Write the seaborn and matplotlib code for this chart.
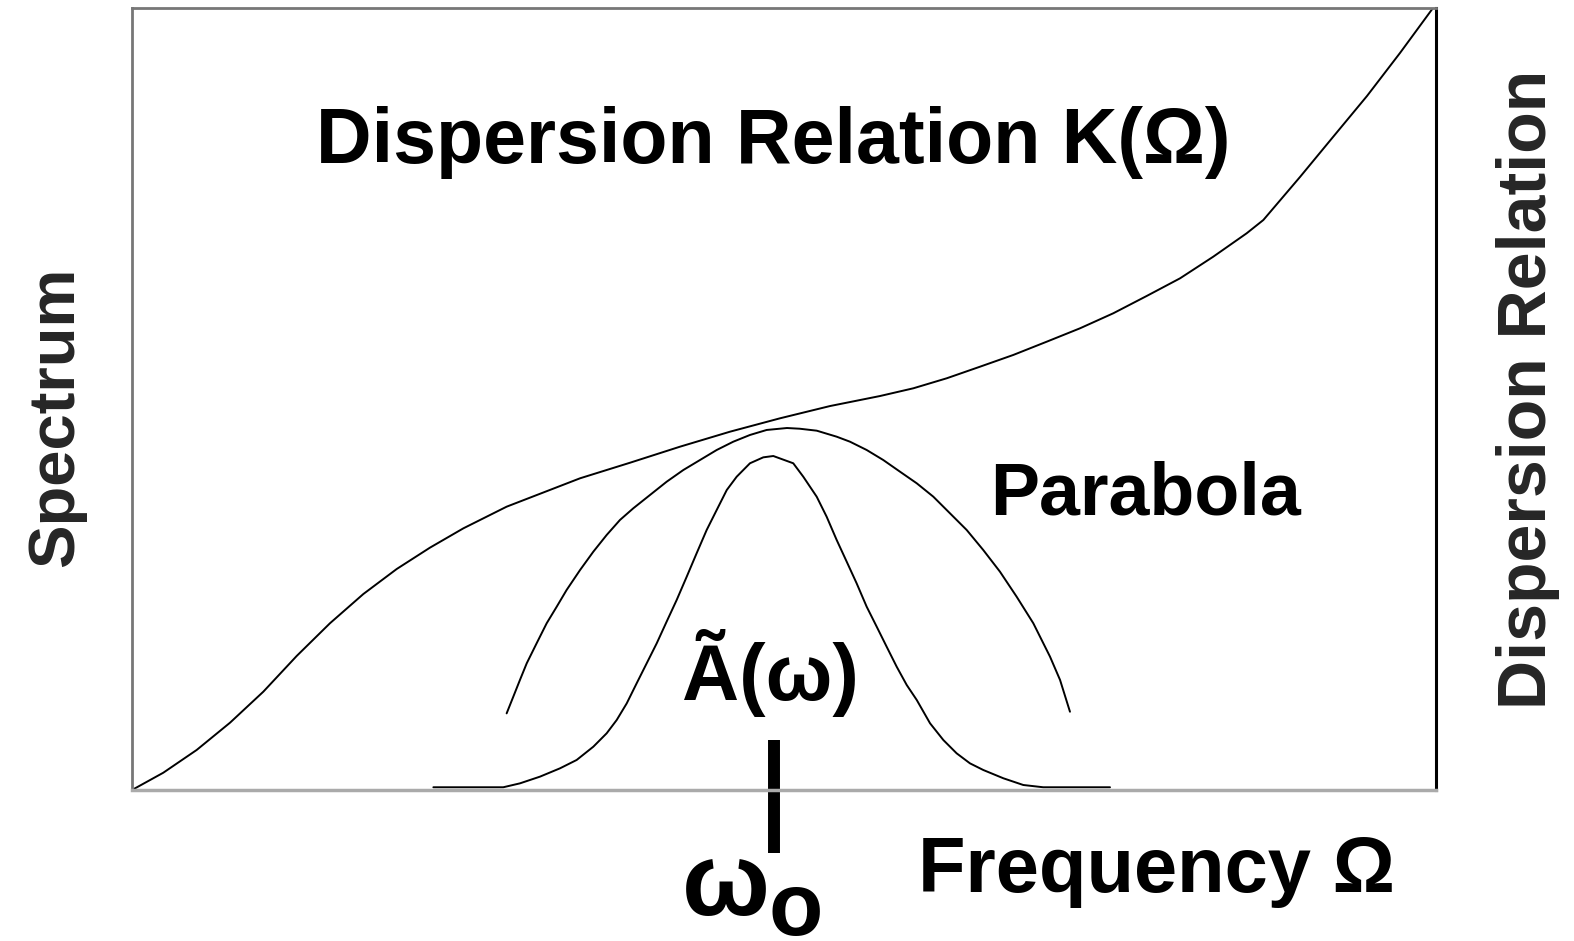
import matplotlib
matplotlib.use("Agg")
import matplotlib.pyplot as plt
from matplotlib import font_manager
import seaborn as sns
import pandas as pd

# curves (frequency 0-100, amplitude 0-100)
disp_x = [0.0, 2.4, 4.96, 7.52, 10.07, 12.63, 15.18, 17.74, 20.3, 22.85,
          25.41, 28.73, 34.36, 38.19, 42.02, 45.86, 49.69, 53.53, 57.36,
          59.92, 62.48, 65.03, 67.58, 70.15, 72.7, 75.25, 77.81, 80.37,
          82.92, 85.48, 86.76, 89.57, 92.1, 94.71, 97.24, 99.77]
disp_y = [0.0, 2.21, 5.12, 8.61, 12.57, 17.14, 21.32, 25.06, 28.26, 30.99,
          33.46, 36.23, 39.86, 41.85, 43.9, 45.82, 47.53, 49.1, 50.38,
          51.37, 52.65, 54.13, 55.63, 57.33, 59.04, 60.96, 63.17, 65.43,
          68.2, 71.19, 72.89, 78.39, 83.5, 88.75, 94.25, 100.0]

para_x = [28.73, 29.24, 29.75, 30.27, 31.03, 31.8, 32.57, 33.33, 34.36,
          35.38, 36.4, 37.42, 38.44, 39.72, 41.0, 42.28, 43.56, 44.84, 46.11,
          47.39, 48.67, 50.23, 51.2, 52.51, 54.04, 55.06, 56.34, 57.61, 58.9,
          60.18, 61.45, 62.73, 64.01, 65.28, 66.56, 67.84, 69.12, 70.4,
          71.17, 71.93]
para_y = [9.8, 11.93, 14.07, 16.2, 18.76, 21.32, 23.44, 25.58, 28.13,
          30.48, 32.61, 34.53, 36.02, 37.72, 39.42, 40.92, 42.2, 43.48, 44.54,
          45.4, 46.04, 46.29, 46.2, 45.95, 45.18, 44.54, 43.48, 42.2, 40.7,
          39.22, 37.51, 35.38, 33.25, 30.69, 27.92, 24.72, 21.32, 17.05,
          14.07, 10.01]

spec_x = [23.11, 28.47, 29.75, 31.29, 32.82, 34.1, 35.38, 36.4, 37.17,
          37.94, 38.7, 39.47, 40.24, 41.0, 41.77, 42.54, 43.3, 44.07, 44.84,
          45.61, 46.37, 47.39, 48.41, 49.18, 50.71, 51.48, 52.51, 53.27,
          54.04, 54.81, 55.57, 56.34, 57.11, 57.87, 58.64, 59.41, 60.18,
          61.2, 62.22, 63.24, 64.26, 65.28, 66.82, 68.35, 69.88, 75.0]
spec_y = [0.35, 0.35, 0.85, 1.71, 2.77, 3.84, 5.54, 7.25, 8.95, 11.08,
          13.64, 16.2, 18.76, 21.53, 24.3, 27.28, 30.27, 33.25, 35.81,
          38.36, 40.06, 41.78, 42.54, 42.71, 41.78, 40.06, 37.5, 34.95,
          31.97, 29.19, 26.43, 23.44, 20.88, 18.33, 15.77, 13.43, 11.51,
          8.53, 6.39, 4.69, 3.41, 2.56, 1.5, 0.64, 0.35, 0.35]

omega0 = 49.2
tick_y = [6.4, -8.1]

title_text = "Dispersion Relation K(Ω)"
parabola_text = "Parabola"
spectrum_text = "Ã(ω)"
xlabel_text = "Frequency Ω"
left_label = "Spectrum"
right_label = "Dispersion Relation"

sns.set_style("white")
plt.rcParams["font.family"] = ["Liberation Sans", "DejaVu Sans"]

# narrow face for the vertical labels, if it is there
try:
    font_manager.findfont("Liberation Sans Narrow", fallback_to_default=False)
    narrow = ["Liberation Sans Narrow", "DejaVu Sans"]
    narrow_size = (57, 59)
except ValueError:
    narrow = ["Liberation Sans", "DejaVu Sans"]
    narrow_size = (47, 49)

fig = plt.figure(figsize=(15.74, 9.41), dpi=100)
ax = fig.add_axes([132 / 1574, 151 / 941, 1304 / 1574, 782 / 941])

curves = [
    pd.DataFrame({"x": disp_x, "y": disp_y}),
    pd.DataFrame({"x": para_x, "y": para_y}),
    pd.DataFrame({"x": spec_x, "y": spec_y}),
]
for df in curves:
    sns.lineplot(data=df, x="x", y="y", ax=ax, color="black", lw=1.4,
                 sort=False, estimator=None)

ax.plot([omega0, omega0], tick_y, color="black", lw=8.6, clip_on=False,
        solid_capstyle="butt")

ax.set_xlim(0, 100)
ax.set_ylim(0, 100)
ax.set_xticks([])
ax.set_yticks([])
ax.set_xlabel("")
ax.set_ylabel("")
for side in ["left", "top"]:
    ax.spines[side].set_color("#777777")
    ax.spines[side].set_linewidth(2)
ax.spines["bottom"].set_color("#aaaaaa")
ax.spines["bottom"].set_linewidth(2.5)
ax.spines["right"].set_color("black")
ax.spines["right"].set_linewidth(2.2)

bold = dict(fontweight="bold", color="black", clip_on=False)
ax.text(49.2, 80.2, title_text, fontsize=55.5, ha="center", va="baseline", **bold)
ax.text(65.8, 35.2, parabola_text, fontsize=53, ha="left", va="baseline", **bold)
ax.text(42.2, 11.5, spectrum_text, fontsize=57, ha="left", va="baseline", **bold)
ax.text(60.3, -13.0, xlabel_text, fontsize=56, ha="left", va="baseline", **bold)
ax.text(42.2, -16.0, "ω", fontsize=75, ha="left", va="baseline", **bold)
ax.text(48.8, -18.5, "o", fontsize=64, ha="left", va="baseline", **bold)

fig.text(56.5 / 1574, 1 - 417 / 941, left_label, rotation=90, ha="center",
         va="center", fontsize=narrow_size[0], fontweight="bold", family=narrow)
fig.text(1528 / 1574, 1 - 389 / 941, right_label, rotation=90, ha="center",
         va="center", fontsize=narrow_size[1], fontweight="bold", family=narrow)

fig.savefig("out.png", dpi=100, facecolor="white")
